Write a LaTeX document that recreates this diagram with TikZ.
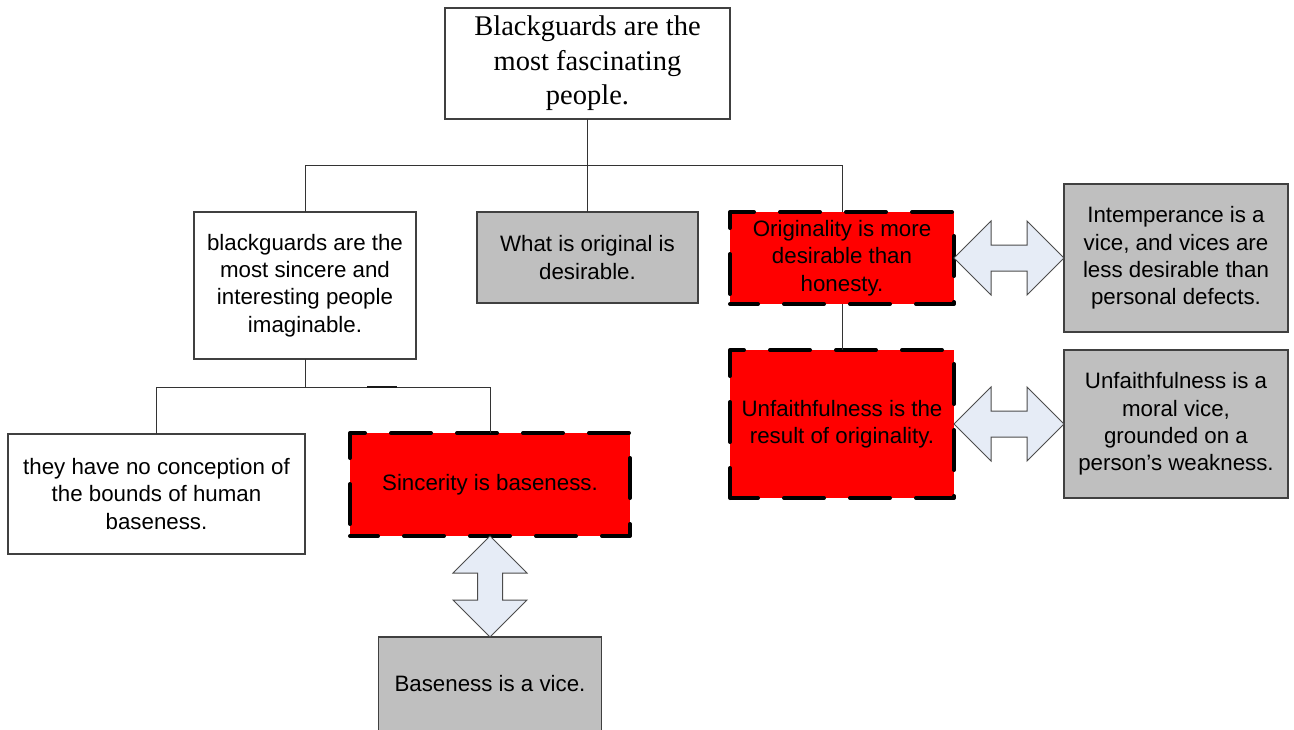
\documentclass[tikz,border=0pt]{standalone}
\usepackage{fontspec}
\setmainfont{Liberation Serif}
\setsansfont{Liberation Sans}
\definecolor{arrowfill}{RGB}{230,236,246}
\begin{document}
\begin{tikzpicture}[x=1pt,y=-1pt,
  box/.style={draw=black!75, line width=1.2pt, outer sep=0pt, inner sep=0pt,
    align=center, font=\sffamily\fontsize{22.3}{27.3}\selectfont},
  plainbox/.style={box, fill=white},
  greybox/.style={box, fill=black!25},
  claimbox/.style={box, fill=red, draw=black, line width=4pt, line cap=round,
    line join=round, dash pattern=on 40pt off 26pt, dash phase=12pt},
  titlebox/.style={box, fill=white, font=\rmfamily\fontsize{28.5}{34.5}\selectfont},
  link/.style={draw=black!80, line width=1pt},
  dblarrow/.style={draw=black!70, line width=1pt, fill=arrowfill, line join=miter}]
\useasboundingbox (0,0) rectangle (1294,729);
\clip (0,0) rectangle (1294,729);
\fill[white] (0,0) rectangle (1294,729);

% main conclusion and its three premises
\node[titlebox, minimum width=285pt, minimum height=111pt] (top) at (587.5,63.5)
  {Blackguards are the\\most fascinating\\people.};
\node[plainbox, minimum width=222pt, minimum height=147pt] (A) at (305,285.5)
  {blackguards are the\\most sincere and\\interesting people\\imaginable.};
\node[greybox, minimum width=221pt, minimum height=91pt] (B) at (587.5,257.5)
  {What is original is\\desirable.};
\node[claimbox, minimum width=224pt, minimum height=92pt] (C) at (842,258)
  {Originality is more\\desirable than\\honesty.};
\node[claimbox, minimum width=224pt, minimum height=148pt] (D) at (842,424)
  {Unfaithfulness is the\\result of originality.};
\node[greybox, minimum width=224pt, minimum height=148pt] (E) at (1176,258)
  {Intemperance is a\\vice, and vices are\\less desirable than\\personal defects.};
\node[greybox, minimum width=224pt, minimum height=148pt] (F) at (1176,424)
  {Unfaithfulness is a\\moral vice,\\grounded on a\\person’s weakness.};

% sub-argument under the first premise
\node[plainbox, minimum width=297pt, minimum height=120pt] (G) at (156.5,494)
  {they have no conception of\\the bounds of human\\baseness.};
\node[claimbox, minimum width=280pt, minimum height=103pt] (H) at (490,484.5)
  {Sincerity is baseness.};
\node[greybox, minimum width=223pt, minimum height=94pt] (I) at (490,684)
  {Baseness is a vice.};

% tree connectors
\coordinate (bus) at (588,165);
\coordinate (bus2) at (305,387);
\draw[link] (top.south) -- (B.north);
\draw[link] (A.north) -- (A.north |- bus) -- (C.north |- bus) -- (C.north);
\draw[link] (C.south) -- (D.north);
\draw[link] (A.south) -- (A.south |- bus2);
\draw[link] (G.north) -- (G.north |- bus2) -- (H.north |- bus2) -- (H.north);
\draw[black!90, line width=1.6pt] ([xshift=62pt]bus2) -- ([xshift=92pt]bus2);

% two-headed block arrows
\draw[dblarrow] (C.east) -- ++(37,-37) -- ++(0,24) -- ++(36,0) -- ++(0,-24)
  -- (E.west) -- ++(-37,37) -- ++(0,-24) -- ++(-36,0) -- ++(0,24) -- cycle;
\draw[dblarrow] (D.east) -- ++(37,-37) -- ++(0,24) -- ++(36,0) -- ++(0,-24)
  -- (F.west) -- ++(-37,37) -- ++(0,-24) -- ++(-36,0) -- ++(0,24) -- cycle;
\draw[dblarrow] (H.south) -- ++(37,37) -- ++(-24.5,0) -- ++(0,27) -- ++(24.5,0)
  -- (I.north) -- ++(-37,-37) -- ++(24.5,0) -- ++(0,-27) -- ++(-24.5,0) -- cycle;
\end{tikzpicture}
\end{document}
